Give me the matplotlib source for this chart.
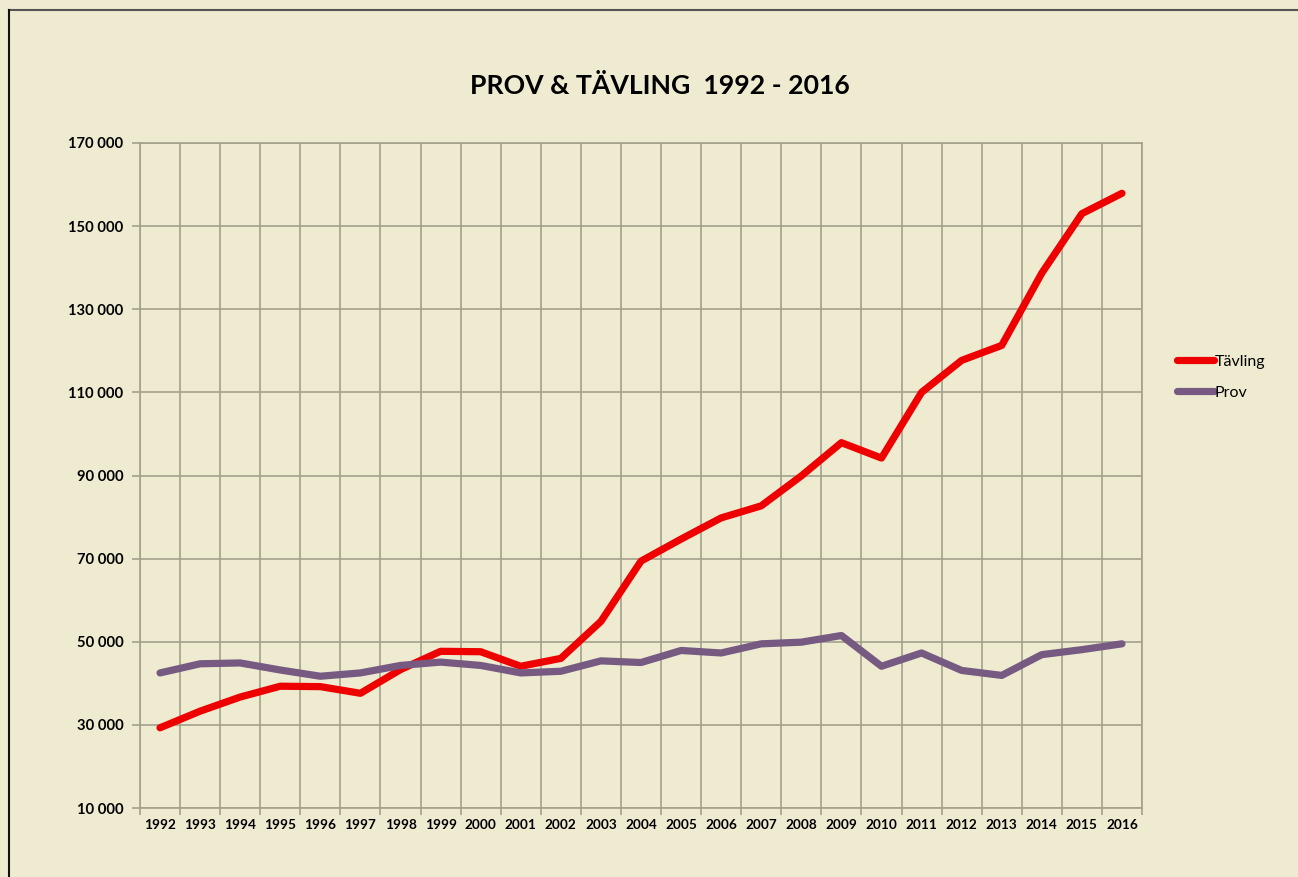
import numpy as np
import matplotlib.pyplot as plt
from matplotlib.lines import Line2D
from matplotlib.ticker import FuncFormatter

# data
years = [str(y) for y in range(1992, 2017)]
tavling = [29300, 33300, 36700, 39300, 39200, 37600, 43300, 47700, 47600, 44100,
           46000, 54900, 69400, 74700, 79800, 82700, 89900, 97900, 94200, 110000,
           117700, 121300, 138700, 153000, 157900]
prov = [42500, 44700, 44900, 43200, 41700, 42500, 44300, 45100, 44300, 42500,
        42900, 45400, 45000, 47900, 47300, 49500, 49900, 51500, 44100, 47300,
        43100, 41900, 46900, 48100, 49500]
yticks = list(range(10000, 170001, 20000))

bg = '#EFEBD0'
grid_c = '#A3A18D'
plt.rcParams['font.family'] = ['Lato', 'DejaVu Sans']

fig = plt.figure(figsize=(12.98, 8.77), dpi=100, facecolor=bg)
ax = fig.add_axes([140/1298, 1 - 808/877, 1002/1298, 665/877])
ax.set_facecolor(bg)

x = np.arange(len(years))
ax.plot(x, tavling, color='#EE0000', lw=5.2, solid_capstyle='round',
        solid_joinstyle='round', label='Tävling', zorder=3)
ax.plot(x, prov, color='#765A82', lw=5.2, solid_capstyle='round',
        solid_joinstyle='round', label='Prov', zorder=3)

ax.set_xlim(-0.5, len(years) - 0.5)
ax.set_ylim(10000, 170000)
ax.set_xticks(np.arange(-0.5, len(years)))
ax.set_xticklabels([])
ax.set_xticks(x, minor=True)
ax.set_xticklabels(years, minor=True, fontsize=9.8, fontweight='bold')
ax.tick_params(axis='x', which='minor', length=0, pad=8)
ax.tick_params(axis='x', which='major', length=5, color=grid_c, width=1.2)
ax.set_yticks(yticks)
ax.yaxis.set_major_formatter(FuncFormatter(lambda v, p: f'{int(v):,}'.replace(',', ' ')))
ax.tick_params(axis='y', length=6, color=grid_c, width=1.2, labelsize=10.6, pad=6)
for lab in ax.get_yticklabels():
    lab.set_fontweight('bold')

ax.grid(True, which='major', color=grid_c, lw=1.2)
ax.set_axisbelow(True)
for s in ax.spines.values():
    s.set_color(grid_c)
    s.set_linewidth(1.2)

fig.text(660/1298, 1 - 86/877, 'PROV & TÄVLING  1992 - 2016', ha='center', va='center',
         fontsize=19.2, fontweight='bold')

fig.legend(loc='center left', bbox_to_anchor=(1163/1298, 1 - 377/877), frameon=False,
           fontsize=11.5, handlelength=2.3, handletextpad=0.05, labelspacing=1.05)

# frame lines (top and left) of the chart area
fig.add_artist(Line2D([9/1298, 1], [1 - 10/877, 1 - 10/877], color='#555555', lw=1.5))
fig.add_artist(Line2D([9/1298, 9/1298], [0, 1 - 10/877], color='#111111', lw=1.5))

fig.savefig('out.png', dpi=100, facecolor=bg)
